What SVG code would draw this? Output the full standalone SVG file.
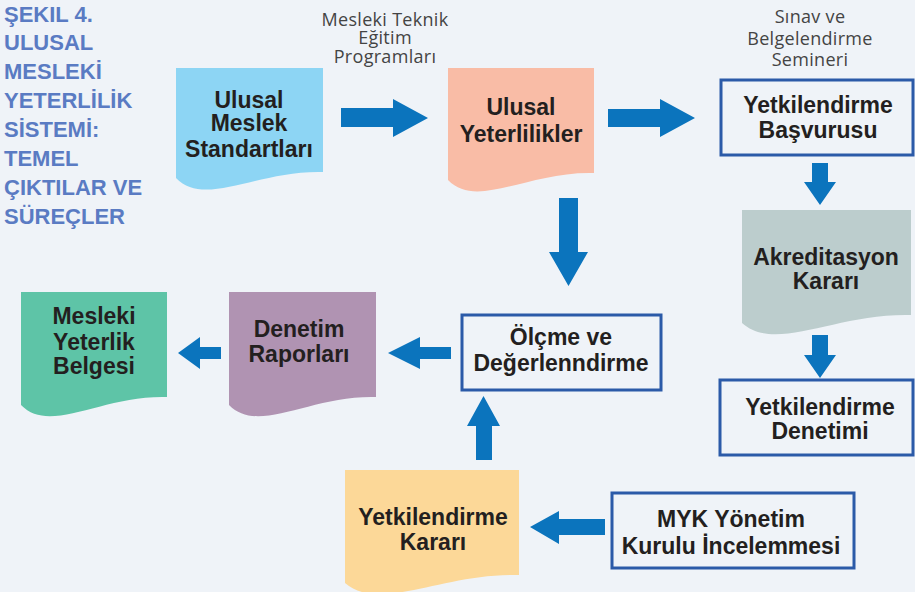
<svg xmlns="http://www.w3.org/2000/svg" width="915" height="592" viewBox="0 0 915 592">
<defs>
<style>
.bg{fill:#eff3f8}
.title{font-family:"Liberation Sans",Arial,sans-serif;font-weight:bold;font-size:22px;fill:#5a7bc3}
.lbl{font-family:"Liberation Sans",Arial,sans-serif;font-weight:bold;font-size:23px;fill:#231f20;text-anchor:middle}
.note{font-family:"Open Sans","Liberation Sans",sans-serif;font-size:18px;fill:#444444;text-anchor:middle;letter-spacing:0.3px}
.box{fill:#eff3f8;stroke:#2b5aa8;stroke-width:3}
.arrow{fill:#0b74bd}
</style>
</defs>
<rect class="bg" x="0" y="0" width="915" height="592"/>

<g id="title">
<text class="title" x="4" y="22">ŞEKIL 4.</text>
<text class="title" x="4" y="50">ULUSAL</text>
<text class="title" x="4" y="79">MESLEKİ</text>
<text class="title" x="4" y="108">YETERLİLİK</text>
<text class="title" x="4" y="137">SİSTEMİ:</text>
<text class="title" x="4" y="166">TEMEL</text>
<text class="title" x="4" y="195">ÇIKTILAR VE</text>
<text class="title" x="4" y="224">SÜREÇLER</text>
</g>

<g id="note-mesleki-teknik">
<text class="note" x="385" y="26">Mesleki Teknik</text>
<text class="note" x="385" y="44">Eğitim</text>
<text class="note" x="385" y="63">Programları</text>
</g>
<g id="note-sinav">
<text class="note" x="810" y="23">Sınav ve</text>
<text class="note" x="810" y="45">Belgelendirme</text>
<text class="note" x="810" y="66">Semineri</text>
</g>

<g id="connectors">
<polygon class="arrow" points="341,108 393,108 393,99 428,118 393,137 393,127 341,127"/>
<polygon class="arrow" points="608,109 660,109 660,99 695,118 660,137 660,127 608,127"/>
<polygon class="arrow" points="559,198 578,198 578,252 588,252 568.5,286 549,252 559,252"/>
<polygon class="arrow" points="812,163 828,163 828,182 836,182 820,205 804,182 812,182"/>
<polygon class="arrow" points="812,335 828,335 828,355 836,355 820,378 804,355 812,355"/>
<polygon class="arrow" points="476,460 492,460 492,426 500,426 483.5,396 467,426 476,426"/>
<polygon class="arrow" points="451,347 420,347 420,337 388,353 420,369 420,359 451,359"/>
<polygon class="arrow" points="221,347 200,347 200,337 178,353 200,369 200,359 221,359"/>
<polygon class="arrow" points="605,519 559,519 559,511 530,527 559,544 559,535 605,535"/>
</g>

<g id="ulusal-meslek-standartlari">
<path fill="#8dd5f4" d="M176,68 H323 V172 C257,170 205,208 176,178 Z"/>
<text class="lbl" x="249" y="108">Ulusal</text>
<text class="lbl" x="249" y="131">Meslek</text>
<text class="lbl" x="249" y="157">Standartları</text>
</g>

<g id="ulusal-yeterlilikler">
<path fill="#f9bca6" d="M448,68 H594 V173 C528,171 477,210 448,180 Z"/>
<text class="lbl" x="521" y="115">Ulusal</text>
<text class="lbl" x="521" y="142">Yeterlilikler</text>
</g>

<g id="yetkilendirme-basvurusu">
<rect class="box" x="721" y="80" width="192" height="75"/>
<text class="lbl" x="818" y="113">Yetkilendirme</text>
<text class="lbl" x="818" y="138">Başvurusu</text>
</g>

<g id="akreditasyon-karari">
<path fill="#bccdcd" d="M742,210 H911 V315 C835,313 776,353 742,323 Z"/>
<text class="lbl" x="826" y="265">Akreditasyon</text>
<text class="lbl" x="826" y="289">Kararı</text>
</g>

<g id="yetkilendirme-denetimi">
<rect class="box" x="720" y="380" width="193" height="75"/>
<text class="lbl" x="820" y="415">Yetkilendirme</text>
<text class="lbl" x="820" y="439">Denetimi</text>
</g>

<g id="olcme-degerlendirme">
<rect class="box" x="462" y="315" width="199" height="75"/>
<text class="lbl" x="561" y="345">Ölçme ve</text>
<text class="lbl" x="561" y="371">Değerlenndirme</text>
</g>

<g id="denetim-raporlari">
<path fill="#b093b2" d="M229,292 H376 V397 C310,395 258,435 229,405 Z"/>
<text class="lbl" x="299" y="337">Denetim</text>
<text class="lbl" x="299" y="362">Raporları</text>
</g>

<g id="mesleki-yeterlik-belgesi">
<path fill="#5ec4a7" d="M21,292 H167 V397 C101,395 50,435 21,405 Z"/>
<text class="lbl" x="94" y="324">Mesleki</text>
<text class="lbl" x="94" y="350">Yeterlik</text>
<text class="lbl" x="94" y="374">Belgesi</text>
</g>

<g id="yetkilendirme-karari">
<path fill="#fcd898" d="M345,470 H519 V575 C441,573 380,613 345,583 Z"/>
<text class="lbl" x="433" y="525">Yetkilendirme</text>
<text class="lbl" x="433" y="550">Kararı</text>
</g>

<g id="myk-yonetim">
<rect class="box" x="612" y="493" width="242" height="75"/>
<text class="lbl" x="731" y="527">MYK Yönetim</text>
<text class="lbl" x="731" y="554">Kurulu İncelemmesi</text>
</g>
</svg>
